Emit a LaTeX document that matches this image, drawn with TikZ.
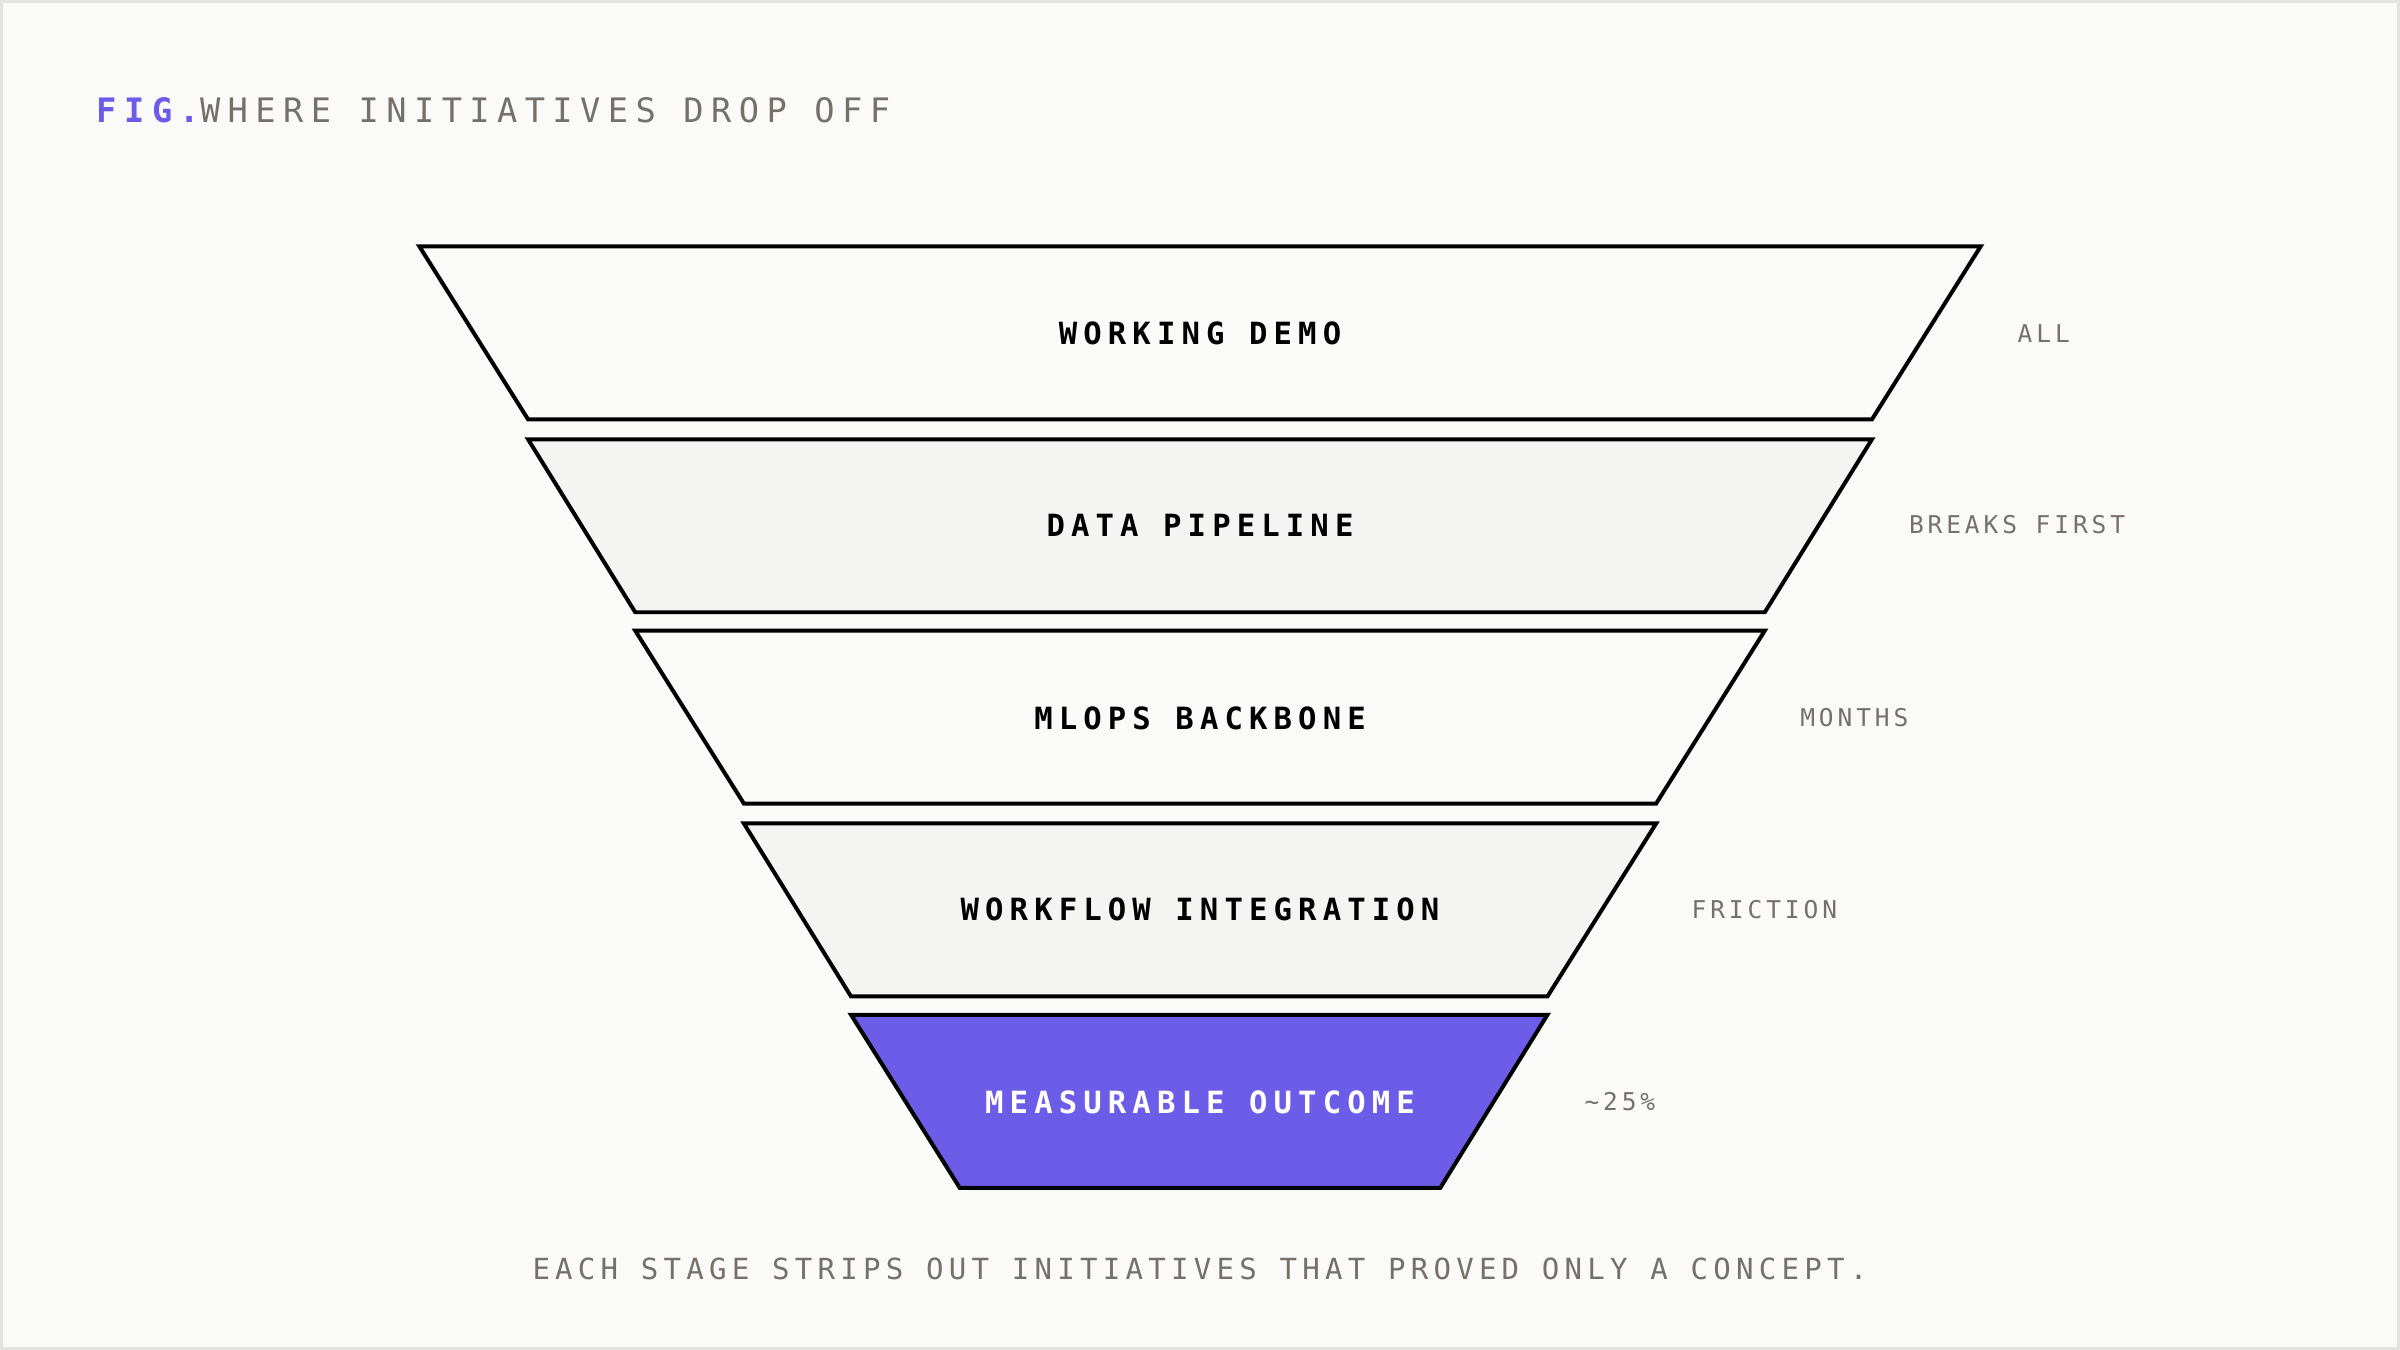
\documentclass[tikz,border=0pt]{standalone}
\usepackage{fontspec}
\newfontfamily\titlef[LetterSpace=22]{DejaVu Sans Mono}
\newfontfamily\stagef[LetterSpace=20]{DejaVu Sans Mono}
\newfontfamily\sidef[LetterSpace=16]{DejaVu Sans Mono}
\newfontfamily\capf[LetterSpace=18]{DejaVu Sans Mono}
\definecolor{bg}{HTML}{FAFAF8}
\definecolor{frame}{HTML}{E2E2E0}
\definecolor{fillA}{HTML}{FAFAF8}
\definecolor{fillB}{HTML}{F4F4F2}
\definecolor{accent}{HTML}{6C5CE7}
\definecolor{muted}{HTML}{76706B}
\begin{document}
\begin{tikzpicture}[x=1pt,y=-1pt,
  stage/.style={draw=black,line width=2.6pt,line join=miter},
  stagetext/.style={font=\stagef\fontsize{20}{24}\selectfont\bfseries,anchor=center},
  sidetext/.style={font=\sidef\fontsize{16}{19}\selectfont,text=muted,anchor=west,inner sep=0pt}]
\fill[bg,draw=frame,line width=2pt] (1,1) rectangle (1567,881);
\useasboundingbox (0,0) rectangle (1568,882);
\node[anchor=west,inner sep=0pt,font=\titlef\fontsize{22}{26}\selectfont] (title) at (63,72) {\textcolor{accent}{\bfseries FIG.}\textcolor{muted}{ WHERE INITIATIVES DROP OFF}};
\draw[stage,fill=fillA] (274,161) -- (1294,161) -- (1223,274) -- (345,274) -- cycle;
\draw[stage,fill=fillB] (345,287) -- (1223,287) -- (1153,400) -- (415,400) -- cycle;
\draw[stage,fill=fillA] (415,412) -- (1153,412) -- (1082,525) -- (486,525) -- cycle;
\draw[stage,fill=fillB] (486,538) -- (1082,538) -- (1011,651) -- (556,651) -- cycle;
\draw[stage,fill=accent] (556,663) -- (1011,663) -- (941,776) -- (627,776) -- cycle;
\node[stagetext] (s1) at (784,218) {WORKING DEMO};
\node[stagetext] (s2) at (784,343) {DATA PIPELINE};
\node[stagetext] (s3) at (784,469) {MLOPS BACKBONE};
\node[stagetext] (s4) at (784,594) {WORKFLOW INTEGRATION};
\node[stagetext,text=white] (s5) at (784,720) {MEASURABLE OUTCOME};
\node[sidetext] (l1) at (1318,218) {ALL};
\node[sidetext] (l2) at (1247,343) {BREAKS FIRST};
\node[sidetext] (l3) at (1176,469) {MONTHS};
\node[sidetext] (l4) at (1105,594) {FRICTION};
\node[sidetext] (l5) at (1035,720) {\textasciitilde25\%};
\node[font=\capf\fontsize{19}{23}\selectfont,text=muted] (cap) at (784,829) {EACH STAGE STRIPS OUT INITIATIVES THAT PROVED ONLY A CONCEPT.};
\end{tikzpicture}
\end{document}
